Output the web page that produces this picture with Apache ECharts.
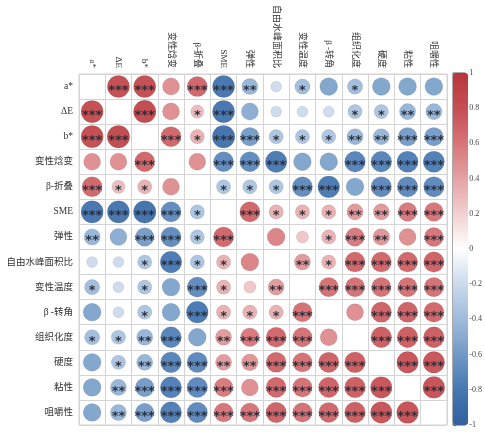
<!DOCTYPE html>
<html>
<head>
<meta charset="utf-8">
<script src="https://cdn.jsdelivr.net/npm/echarts@6/dist/echarts.min.js"></script>
<style>
  html, body { margin: 0; padding: 0; background: #ffffff; }
  #chart { width: 485px; height: 432px; }
</style>
</head>
<body>
<div id="chart"></div>
<script>
// Variable names (row / column order of the correlation matrix)
const labels = ['a*', 'ΔE', 'b*', '变性焓变', 'β-折叠', 'SME', '弹性', '自由水峰面积比',
  '变性温度', 'β -转角', '组织化度', '硬度', '粘性', '咀嚼性'];

// Pearson correlation coefficients (diagonal left empty)
const corr = [
  [null, 0.85, 0.85, 0.50, 0.70, -0.85, -0.45, -0.20, -0.40, -0.55, -0.40, -0.55, -0.55, -0.55],
  [0.85, null, 0.88, 0.50, 0.30, -0.85, -0.50, -0.20, -0.20, -0.20, -0.35, -0.35, -0.45, -0.45],
  [0.85, 0.88, null, 0.70, 0.35, -0.88, -0.60, -0.35, -0.35, -0.35, -0.45, -0.45, -0.60, -0.60],
  [0.50, 0.50, 0.70, null, 0.50, -0.70, -0.70, -0.80, -0.55, -0.55, -0.75, -0.75, -0.78, -0.78],
  [0.70, 0.30, 0.35, 0.50, null, -0.35, -0.35, -0.35, -0.70, -0.82, -0.55, -0.72, -0.72, -0.72],
  [-0.85, -0.85, -0.88, -0.70, -0.35, null, 0.70, 0.35, 0.35, 0.35, 0.45, 0.45, 0.60, 0.62],
  [-0.45, -0.50, -0.60, -0.70, -0.35, 0.70, null, 0.55, 0.25, 0.35, 0.60, 0.48, 0.50, 0.62],
  [-0.20, -0.20, -0.35, -0.80, -0.35, 0.35, 0.55, null, 0.45, 0.35, 0.70, 0.70, 0.70, 0.72],
  [-0.40, -0.20, -0.35, -0.55, -0.70, 0.35, 0.25, 0.45, null, 0.65, 0.65, 0.65, 0.65, 0.65],
  [-0.55, -0.20, -0.35, -0.55, -0.82, 0.35, 0.35, 0.35, 0.65, null, 0.50, 0.72, 0.72, 0.70],
  [-0.40, -0.35, -0.45, -0.75, -0.55, 0.45, 0.60, 0.70, 0.65, 0.50, null, 0.75, 0.75, 0.75],
  [-0.55, -0.35, -0.45, -0.75, -0.72, 0.45, 0.48, 0.70, 0.65, 0.72, 0.75, null, 0.80, 0.80],
  [-0.55, -0.45, -0.60, -0.78, -0.72, 0.60, 0.50, 0.70, 0.65, 0.72, 0.75, 0.80, null, 0.82],
  [-0.55, -0.45, -0.60, -0.78, -0.72, 0.62, 0.62, 0.72, 0.65, 0.70, 0.75, 0.80, 0.82, null]
];

// Significance level as number of asterisks (1: p<0.05, 2: p<0.01, 3: p<0.001)
const stars = [
  [0, 3, 3, 0, 3, 3, 2, 0, 1, 0, 1, 0, 0, 0],
  [3, 0, 3, 0, 1, 3, 0, 0, 0, 0, 1, 1, 2, 2],
  [3, 3, 0, 3, 1, 3, 3, 1, 1, 1, 2, 2, 3, 3],
  [0, 0, 3, 0, 0, 3, 3, 3, 0, 0, 3, 3, 3, 3],
  [3, 1, 1, 0, 0, 1, 1, 1, 3, 3, 0, 3, 3, 3],
  [3, 3, 3, 3, 1, 0, 3, 1, 1, 1, 2, 2, 3, 3],
  [2, 0, 3, 3, 1, 3, 0, 0, 0, 1, 3, 2, 0, 3],
  [0, 0, 1, 3, 1, 1, 0, 0, 2, 1, 3, 3, 3, 3],
  [1, 0, 1, 0, 3, 1, 0, 2, 0, 3, 3, 3, 3, 3],
  [0, 0, 1, 0, 3, 1, 1, 1, 3, 0, 0, 3, 3, 3],
  [1, 1, 2, 3, 0, 2, 3, 3, 3, 0, 0, 3, 3, 3],
  [0, 1, 2, 3, 3, 2, 2, 3, 3, 3, 3, 0, 3, 3],
  [0, 2, 3, 3, 3, 3, 0, 3, 3, 3, 3, 3, 0, 3],
  [0, 2, 3, 3, 3, 3, 3, 3, 3, 3, 3, 3, 3, 0]
];

// Colour-bar scale
const barMin = -1;
const barMax = 1;
const barStep = 0.2;

const points = [];
corr.forEach((row, i) => {
  row.forEach((r, j) => {
    if (r !== null) points.push([j, i, r, stars[i][j]]);
  });
});

const latinCjk = "'Liberation Serif', 'Noto Sans CJK SC', serif";

const chart = echarts.init(document.getElementById('chart'), null, { renderer: 'canvas' });
chart.setOption({
  backgroundColor: '#ffffff',
  animation: false,
  grid: [
    { left: 79, top: 74, width: 368, height: 351, show: true, borderColor: '#d4d4d4', borderWidth: 1 },
    { left: 453, top: 73, width: 15, height: 352, show: true, borderColor: '#555555', borderWidth: 1, backgroundColor: 'transparent' }
  ],
  xAxis: [
    {
      type: 'category', data: labels, position: 'top', gridIndex: 0,
      axisLine: { show: false }, axisTick: { show: false },
      splitLine: { show: true, lineStyle: { color: '#d4d4d4', width: 1 } },
      axisLabel: { rotate: 90, interval: 0, margin: 6, fontSize: 9, color: '#333', fontFamily: latinCjk }
    },
    { type: 'value', gridIndex: 1, show: false, min: 0, max: 1 }
  ],
  yAxis: [
    {
      type: 'category', data: labels, inverse: true, gridIndex: 0,
      axisLine: { show: false }, axisTick: { show: false },
      splitLine: { show: true, lineStyle: { color: '#d4d4d4', width: 1 } },
      axisLabel: { interval: 0, margin: 6, fontSize: 9.5, color: '#333', fontFamily: latinCjk }
    },
    {
      type: 'value', gridIndex: 1, position: 'right', min: barMin, max: barMax, interval: barStep,
      axisLine: { show: false },
      axisTick: { show: true, length: 3, lineStyle: { color: '#666' } },
      splitLine: { show: false },
      axisLabel: {
        margin: 4, fontSize: 8, color: '#444', fontFamily: "'Liberation Serif', serif",
        formatter: v => String(Math.round(v * 10) / 10)
      }
    }
  ],
  visualMap: {
    type: 'continuous', min: barMin, max: barMax, dimension: 2, seriesIndex: 0,
    calculable: false, realtime: false, text: ['', ''], showLabel: false,
    left: 453, top: 73, itemWidth: 15, itemHeight: 352, padding: 0,
    inRange: {
      color: ['#30609e', '#4677b2', '#7299c6', '#9fbbdb', '#cbdaec', '#ffffff',
        '#f2d0d1', '#e4a2a4', '#d77478', '#c64e52', '#b8353b']
    }
  },
  series: [{
    type: 'scatter', xAxisIndex: 0, yAxisIndex: 0,
    data: points,
    symbol: 'circle',
    symbolSize: v => 24 * Math.sqrt(Math.abs(v[2])),
    itemStyle: { opacity: 0.95, borderColor: 'rgba(0,0,0,0.12)', borderWidth: 0.8 },
    label: {
      show: true, position: 'inside',
      formatter: p => '*'.repeat(p.value[3]),
      fontFamily: "'DejaVu Sans', sans-serif", fontSize: 13, fontWeight: 'bold', color: '#262b36',
      offset: [0, 4]
    }
  }]
});
</script>
</body>
</html>
